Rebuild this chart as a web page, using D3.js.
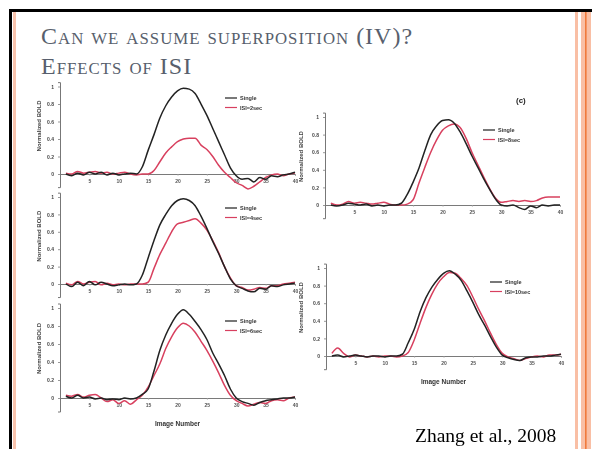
<!DOCTYPE html>
<html>
<head>
<meta charset="utf-8">
<script src="https://cdn.jsdelivr.net/npm/d3@7"></script>
<style>
  html, body { margin: 0; padding: 0; background: #fff; }
  svg { display: block; }
</style>
</head>
<body>
<svg id="slide" width="592" height="449"></svg>
<script>
// ---- data ------------------------------------------------------------
const imageNumbers = [1,2,3,4,5,6,7,8,9,10,11,12,13,14,15,16,17,18,19,20,
                      21,22,23,24,25,26,27,28,29,30,31,32,33,34,35,36,37,38,39,40];
const xTicks = [5, 10, 15, 20, 25, 30, 35, 40];
const yTicks = [0, 0.2, 0.4, 0.6, 0.8, 1];
const singleLabel = "Single";
const isiLabels = ["ISI=2sec", "ISI=4sec", "ISI=6sec", "ISI=8sec", "ISI=10sec"];

const singleA = [0,-0.02,0.01,-0.01,0.02,0,0.02,-0.01,0.01,-0.01,0,0.01,0,0.08,0.27,0.45,0.64,0.78,0.88,0.95,
                 0.98,0.97,0.92,0.8,0.67,0.52,0.37,0.22,0.07,-0.02,-0.06,-0.05,-0.09,-0.04,-0.06,-0.02,-0.03,-0.01,0,0.02];
const pairedA = [0.01,0,0.03,0.01,0.02,0.03,0.01,0.02,0,0.01,0.02,0,-0.01,0,0,0.04,0.14,0.24,0.31,0.37,
                 0.4,0.41,0.41,0.33,0.28,0.2,0.1,0.02,-0.04,-0.1,-0.13,-0.17,-0.14,-0.09,-0.04,-0.01,0,-0.02,0,0.01];

const singleB = [0,-0.03,0.02,-0.02,0.03,-0.01,0.02,0,-0.02,-0.01,0,-0.01,0,0.1,0.3,0.5,0.68,0.8,0.9,0.96,
                 0.98,0.96,0.9,0.78,0.64,0.49,0.35,0.2,0.06,-0.02,-0.05,-0.08,-0.09,-0.05,-0.06,-0.02,-0.03,-0.01,0,0.01];
const pairedB = [0.01,-0.01,0.03,0,0.02,0.03,-0.01,0.01,-0.01,0,-0.01,0,0,0,0.02,0.18,0.34,0.47,0.6,0.69,
                 0.71,0.73,0.75,0.7,0.62,0.5,0.36,0.2,0.07,-0.02,-0.04,-0.07,-0.06,-0.04,-0.05,-0.02,-0.02,0,0.01,0.02];

const singleC = [0.02,0,0.03,0,0.01,-0.01,0,-0.02,-0.01,-0.02,0,-0.01,0,0.04,0.1,0.3,0.53,0.7,0.83,0.93,
                 0.98,0.93,0.85,0.76,0.65,0.5,0.38,0.25,0.1,0,-0.04,-0.06,-0.08,-0.05,-0.03,-0.02,-0.01,0,0,0.01];
const pairedC = [0.03,0.02,0.04,0.01,0.03,0.04,0,-0.04,-0.02,-0.06,-0.03,-0.07,-0.02,0.03,0.12,0.25,0.38,0.55,0.68,0.78,
                 0.83,0.8,0.73,0.63,0.53,0.41,0.28,0.14,0.03,-0.03,-0.06,-0.09,-0.07,-0.05,-0.06,-0.03,-0.02,-0.03,0,0.01];

const singleD = [0,-0.01,0,0.02,0.01,0,0.01,-0.01,0,-0.01,0,0,0.02,0.12,0.26,0.42,0.62,0.8,0.9,0.96,
                 0.97,0.93,0.83,0.7,0.56,0.43,0.3,0.18,0.07,0,-0.01,0,-0.03,-0.05,-0.01,-0.03,0,-0.01,0,0];
const pairedD = [0.02,0,0.01,0.04,0.02,0.03,0.02,0.01,0.02,0.03,0.01,0,0,0.01,0.06,0.25,0.43,0.6,0.74,0.85,
                 0.9,0.92,0.88,0.76,0.6,0.46,0.32,0.19,0.08,0.03,0.04,0.05,0.04,0.05,0.04,0.05,0.08,0.09,0.09,0.09];

const singleE = [0,0.01,-0.01,0,0.01,0,-0.01,0,0,-0.01,0,0,0.02,0.15,0.3,0.5,0.66,0.78,0.87,0.94,
                 0.97,0.93,0.86,0.74,0.61,0.47,0.35,0.22,0.1,0.01,-0.02,-0.04,-0.05,-0.02,-0.01,-0.01,0,0,0.01,0.02];
const pairedE = [0.03,0.09,0.03,-0.01,0.01,0,-0.01,0,-0.01,0,0,-0.01,0,0.04,0.18,0.37,0.55,0.7,0.82,0.9,
                 0.95,0.94,0.88,0.8,0.67,0.53,0.4,0.26,0.13,0.03,-0.01,-0.03,-0.05,-0.03,-0.01,0,-0.01,0.01,0.01,0.02];

// ---- layout ----------------------------------------------------------
const panels = [
  { single: singleA, paired: pairedA, isi: isiLabels[0], left: 60,  zeroY: 174, unit: 87.5, titleX: 41,  legX: 225, legY: 98,  xLabel: false },
  { single: singleB, paired: pairedB, isi: isiLabels[1], left: 60,  zeroY: 284, unit: 87,   titleX: 41,  legX: 225, legY: 208, xLabel: false },
  { single: singleC, paired: pairedC, isi: isiLabels[2], left: 60,  zeroY: 398, unit: 90,   titleX: 41,  legX: 225, legY: 321, xLabel: true  },
  { single: singleD, paired: pairedD, isi: isiLabels[3], left: 325, zeroY: 205, unit: 88,   titleX: 303, legX: 483, legY: 130, xLabel: false },
  { single: singleE, paired: pairedE, isi: isiLabels[4], left: 326, zeroY: 356, unit: 88,   titleX: 303, legX: 490, legY: 282, xLabel: true  }
];
const plotWidth = 235;
const singleColor = "#222222";
const pairedColor = "#d8405e";

const svg = d3.select("#slide");

// soft focus for the scanned figure panels
const defs = svg.append("defs");
defs.append("filter").attr("id", "soft")
  .attr("x", "-0.2").attr("y", "-0.2").attr("width", "1.4").attr("height", "1.4")
  .append("feGaussianBlur").attr("stdDeviation", 0.6);

// ---- slide frame -----------------------------------------------------
svg.append("rect").attr("x", 9).attr("y", 9).attr("width", 583).attr("height", 3).attr("fill", "#000");
svg.append("rect").attr("x", 9).attr("y", 9).attr("width", 3).attr("height", 440).attr("fill", "#000");
svg.append("rect").attr("x", 13).attr("y", 12).attr("width", 3).attr("height", 437).attr("fill", "#f8c3ad");
svg.append("rect").attr("x", 575).attr("y", 12).attr("width", 3).attr("height", 437).attr("fill", "#f9bfa5");
svg.append("rect").attr("x", 581).attr("y", 12).attr("width", 10).attr("height", 437).attr("fill", "#f9bfa5");
svg.append("rect").attr("x", 585).attr("y", 12).attr("width", 1.6).attr("height", 437).attr("fill", "#f07a3c");

// ---- title (small caps) ---------------------------------------------
function smallCaps(sel, str, size) {
  const re = /([a-z]+)|([^a-z]+)/g;
  let m;
  while ((m = re.exec(str)) !== null) {
    if (m[1]) sel.append("tspan").attr("font-size", size * 0.7).text(m[1].toUpperCase());
    else sel.append("tspan").attr("font-size", size).text(m[2]);
  }
}
const titleLines = ["Can we assume superposition (IV)?", "Effects of ISI"];
titleLines.forEach((line, i) => {
  const t = svg.append("text")
    .attr("x", 41).attr("y", 43.5 + i * 30.5)
    .attr("font-family", "'Liberation Serif', 'Times New Roman', serif")
    .attr("letter-spacing", 1)
    .attr("fill", "#585f6d");
  smallCaps(t, line, 24);
});

// ---- figure panels ---------------------------------------------------
const fig = svg.append("g").attr("filter", "url(#soft)");

panels.forEach((p) => {
  const g = fig.append("g");
  const x = d3.scaleLinear().domain([0, 40]).range([p.left, p.left + plotWidth]);
  const y = d3.scaleLinear().domain([-0.15, 1.05])
    .range([p.zeroY + 0.15 * p.unit, p.zeroY - 1.05 * p.unit]);

  // zero line / x axis
  const xAxis = d3.axisBottom(x).tickValues(xTicks).tickSize(1.5).tickPadding(4)
    .tickFormat(d3.format("d"));
  const xa = g.append("g").attr("transform", `translate(0,${y(0)})`).call(xAxis);
  xa.select(".domain").attr("stroke", "#7a7a7a").attr("stroke-width", 1);
  xa.selectAll(".tick line").attr("stroke", "#999");
  xa.selectAll(".tick text").attr("font-size", 5).attr("font-family", "Arial, sans-serif")
    .attr("font-weight", "bold").attr("fill", "#555");

  // y axis
  const yAxis = d3.axisLeft(y).tickValues(yTicks).tickSize(2).tickPadding(4)
    .tickFormat(d => d === 0 || d === 1 ? d3.format("d")(d) : d3.format(".1f")(d));
  const ya = g.append("g").attr("transform", `translate(${p.left},0)`).call(yAxis);
  ya.select(".domain").attr("stroke", "#777").attr("stroke-width", 1);
  ya.selectAll(".tick line").attr("stroke", "#999");
  ya.selectAll(".tick text").attr("font-size", 5).attr("font-family", "Arial, sans-serif")
    .attr("font-weight", "bold").attr("fill", "#444");

  // y axis title
  g.append("text")
    .attr("transform", `translate(${p.titleX},${y(0.55)}) rotate(-90)`)
    .attr("text-anchor", "middle")
    .attr("font-size", 6).attr("font-weight", "bold").attr("font-family", "Arial, sans-serif")
    .attr("fill", "#444").text("Normalized BOLD");

  if (p.xLabel) {
    g.append("text")
      .attr("x", x(20)).attr("y", y(0) + 28)
      .attr("text-anchor", "middle")
      .attr("font-size", 6.5).attr("font-weight", "bold").attr("font-family", "Arial, sans-serif")
      .attr("fill", "#333").text("Image Number");
  }

  const line = d3.line()
    .x((d, i) => x(imageNumbers[i]))
    .y(d => y(d))
    .curve(d3.curveMonotoneX);

  g.append("path").datum(p.paired).attr("d", line)
    .attr("fill", "none").attr("stroke", pairedColor).attr("stroke-width", 1.5);
  g.append("path").datum(p.single).attr("d", line)
    .attr("fill", "none").attr("stroke", singleColor).attr("stroke-width", 1.5);

  // legend
  [[singleLabel, singleColor], [p.isi, pairedColor]].forEach(([label, color], k) => {
    const ly = p.legY + k * 9.5;
    g.append("line").attr("x1", p.legX).attr("x2", p.legX + 12)
      .attr("y1", ly).attr("y2", ly).attr("stroke", color).attr("stroke-width", 1.2);
    g.append("text").attr("x", p.legX + 15).attr("y", ly + 2)
      .attr("font-size", 5.5).attr("font-weight", "bold").attr("font-family", "Arial, sans-serif")
      .attr("fill", "#333").text(label);
  });
});

// panel tag
fig.append("text").attr("x", 516).attr("y", 103)
  .attr("font-size", 8).attr("font-weight", "bold").attr("font-family", "Arial, sans-serif")
  .attr("fill", "#222").text("(c)");

// ---- citation --------------------------------------------------------
svg.append("text")
  .attr("x", 415).attr("y", 442)
  .attr("font-family", "'Liberation Serif', 'Times New Roman', serif")
  .attr("font-size", 19.5).attr("fill", "#000")
  .text("Zhang et al., 2008");
</script>
</body>
</html>
